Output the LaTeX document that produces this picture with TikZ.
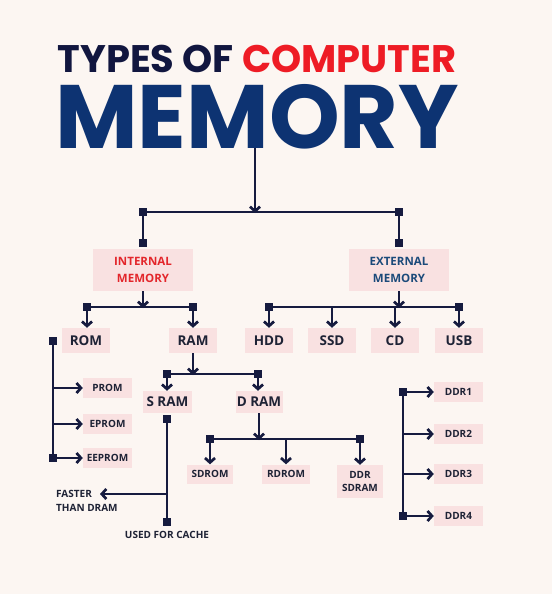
\documentclass[tikz,border=0pt]{standalone}
\usepackage{fontspec}
\setmainfont{Open Sans}
\newfontfamily\titlefont{Poppins}
\usetikzlibrary{arrows.meta}
\definecolor{bg}{HTML}{FCF6F2}
\definecolor{boxpink}{HTML}{F9E1E1}
\definecolor{navy}{HTML}{161B3F}
\definecolor{tnavy}{HTML}{11163F}
\definecolor{tred}{HTML}{EE1C25}
\definecolor{mblue}{HTML}{0D3372}
\definecolor{ired}{HTML}{E3262B}
\definecolor{eblue}{HTML}{1B4A7A}
\definecolor{txt}{HTML}{1E2235}
\begin{document}
\begin{tikzpicture}[x=1pt,y=-1pt,
  box/.style={fill=boxpink, inner sep=0pt, text=txt, align=center, font=\bfseries\fontsize{13.5}{15}\selectfont},
  sbox/.style={box, minimum width=49pt, minimum height=20pt, font=\bfseries\fontsize{10}{13}\selectfont},
  mbox/.style={box, minimum width=48pt, minimum height=25pt},
  bigbox/.style={box, minimum width=100pt, minimum height=42pt, font=\bfseries\fontsize{11.5}{17}\selectfont},
  sq/.style={fill=navy, minimum size=8.5pt, inner sep=0pt},
  ln/.style={draw=navy, line width=2.7pt},
  arr/.style={ln, -{Straight Barb[length=4.5pt,width=10pt,line width=2.7pt]}},
  lbl/.style={text=txt, font=\bfseries\fontsize{10}{14}\selectfont, inner sep=0pt}
]
\useasboundingbox[fill=bg] (0,0) rectangle (552,594);
% title
\node[font=\titlefont\bfseries\fontsize{38.4}{40}\selectfont, anchor=base, inner sep=0pt] (title) at (257,72) {\color{tnavy}TYPES OF \color{tred}COMPUTER};
\node[font=\titlefont\bfseries\fontsize{90}{90}\selectfont, anchor=base, text=mblue, inner sep=0pt] (mem) at (257,148) {MEMORY};
\coordinate (t0) at (255,148);
\coordinate (t1) at (255,213);
% top split
\node[sq] (sL) at (143,212) {};
\node[sq] (sR) at (399,212) {};
\node[sq] (sLb) at (143,243) {};
\node[sq] (sRb) at (399,243) {};
\draw[ln] (sL.center) -- (sR.center);
\draw[ln] (sL.center) -- (sLb.center);
\draw[ln] (sR.center) -- (sRb.center);
\draw[arr] (t0) -- (t1);
\node[bigbox, text=ired] (int) at (143,270) {INTERNAL\\MEMORY};
\node[bigbox, text=eblue] (ext) at (399,270) {EXTERNAL\\MEMORY};
% internal split
\node[sq] (iA) at (87,307) {};
\node[sq] (iB) at (193,307) {};
\draw[ln] (iA.center) -- (iB.center);
\coordinate (iM) at (143,308);
\draw[arr] (int.south) -- (iM);
\node[mbox] (rom) at (86,340.5) {ROM};
\node[mbox] (ram) at (193,340.5) {RAM};
\draw[arr] (iA.center) -- (iA.center |- rom.north);
\draw[arr] (iB.center) -- (iB.center |- ram.north);
% external split
\node[sq] (eA) at (269,307) {};
\node[sq] (eB) at (459,307) {};
\draw[ln] (eA.center) -- (eB.center);
\coordinate (eM) at (399,308);
\draw[arr] (ext.south) -- (eM);
\node[mbox] (hdd) at (269,340.5) {HDD};
\node[mbox] (ssd) at (332,340.5) {SSD};
\node[mbox] (cd) at (395,340.5) {CD};
\node[mbox] (usb) at (459,340.5) {USB};
\coordinate (eS) at (332,307);
\coordinate (eC) at (395,307);
\draw[arr] (eA.center) -- (eA.center |- hdd.north);
\draw[arr] (eS) -- (ssd.north);
\draw[arr] (eC) -- (cd.north);
\draw[arr] (eB.center) -- (eB.center |- usb.north);
% ROM tree
\node[sq] (rT) at (53,341) {};
\node[sq] (rB) at (53,458) {};
\draw[ln] (rT.center) -- (rB.center);
\node[sbox] (prom) at (107.5,388) {PROM};
\node[sbox] (eprom) at (107.5,424) {EPROM};
\node[sbox] (eeprom) at (107.5,458) {EEPROM};
\draw[arr] (rT.center |- prom) -- (prom.west);
\draw[arr] (rT.center |- eprom) -- (eprom.west);
\draw[arr] (rB.center) -- (eeprom.west);
% RAM split
\node[sq] (mA) at (167,374) {};
\node[sq] (mB) at (258,374) {};
\draw[ln] (mA.center) -- (mB.center);
\coordinate (mM) at (193,375);
\draw[arr] (ram.south) -- (mM);
\node[box, minimum width=49pt, minimum height=22pt] (sram) at (167.5,402) {S RAM};
\node[box, minimum width=47pt, minimum height=22pt] (dram) at (259,402) {D RAM};
\draw[arr] (mA.center) -- (mA.center |- sram.north);
\draw[arr] (mB.center) -- (mB.center |- dram.north);
% S RAM tree
\node[sq] (sT) at (167,419) {};
\node[sq] (sB) at (167,522) {};
\draw[ln] (sT.center) -- (sB.center);
\coordinate (sF) at (167,494);
\coordinate (fE) at (100,494);
\draw[arr] (sF) -- (fE);
\node[lbl, anchor=west, align=left] (faster) at (56,501) {FASTER\\THAN DRAM};
\node[lbl, anchor=center] (cache) at (167,535) {USED FOR CACHE};
% D RAM split
\node[sq] (dA) at (210,439) {};
\node[sq] (dB) at (360,439) {};
\draw[ln] (dA.center) -- (dB.center);
\coordinate (dM) at (259,440);
\draw[arr] (dram.south) -- (dM);
\coordinate (dR) at (286,439);
\node[sbox, minimum width=46pt, minimum height=19pt] (sdrom) at (210,474) {SDROM};
\node[sbox, minimum width=48pt, minimum height=19pt] (rdrom) at (286,474) {RDROM};
\node[sbox, minimum width=46pt, minimum height=33pt] (ddrs) at (360,481.5) {DDR\\SDRAM};
\draw[arr] (dA.center) -- (dA.center |- sdrom.north);
\draw[arr] (dR) -- (rdrom.north);
\draw[arr] (dB.center) -- (dB.center |- ddrs.north);
% DDR tree
\node[sq] (qT) at (403,392) {};
\node[sq] (qB) at (403,516) {};
\draw[ln] (qT.center) -- (qB.center);
\node[sbox] (ddr1) at (458.5,392) {DDR1};
\node[sbox] (ddr2) at (458.5,434) {DDR2};
\node[sbox] (ddr3) at (458.5,474) {DDR3};
\node[sbox] (ddr4) at (458.5,516) {DDR4};
\draw[arr] (qT.center) -- (ddr1.west);
\draw[arr] (qT.center |- ddr2) -- (ddr2.west);
\draw[arr] (qT.center |- ddr3) -- (ddr3.west);
\draw[arr] (qB.center) -- (ddr4.west);
\end{tikzpicture}
\end{document}
